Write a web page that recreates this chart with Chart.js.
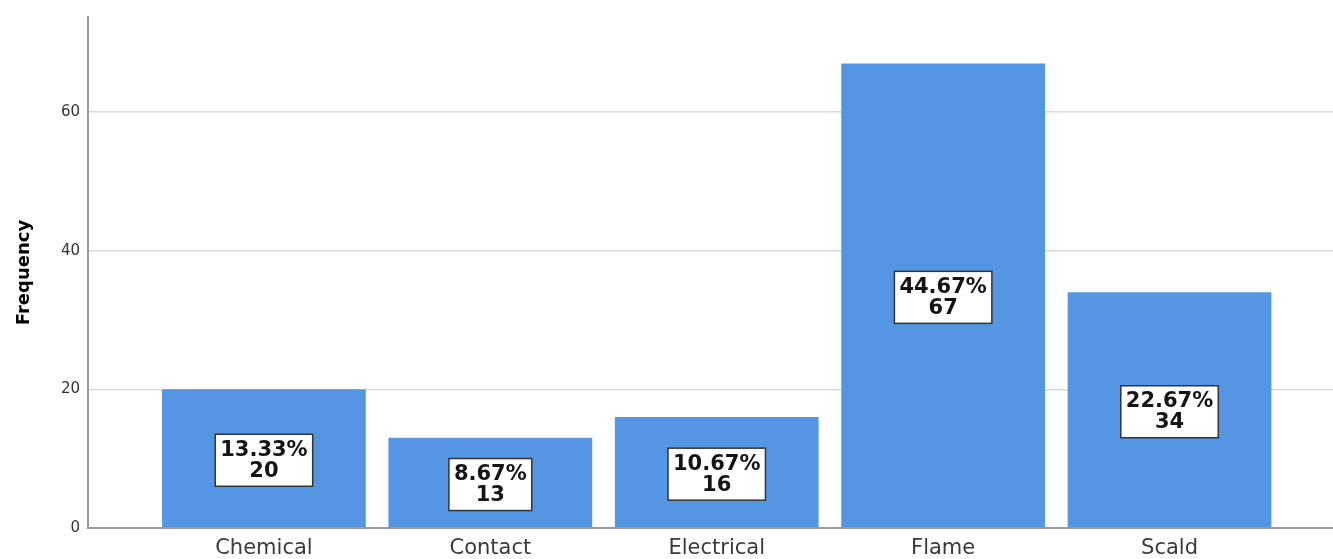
<!DOCTYPE html>
<html>
<head>
<meta charset="utf-8">
<script src="https://cdn.jsdelivr.net/npm/chart.js@4/dist/chart.umd.min.js"></script>
<style>
  html, body { margin: 0; padding: 0; background: #fff; }
  #wrap { width: 1333px; height: 559px; position: relative; }
</style>
</head>
<body>
<div id="wrap"><canvas id="burnChart"></canvas></div>
<script>
// Data
const categories = ['Chemical', 'Contact', 'Electrical', 'Flame', 'Scald'];
const frequencies = [20, 13, 16, 67, 34];
const yTicks = [0, 20, 40, 60];

const total = frequencies.reduce((a, b) => a + b, 0);

// Draws the white "percent / count" box in the middle of each bar
const barLabels = {
    id: 'barLabels',
    afterDatasetsDraw(chart) {
        const ctx = chart.ctx;
        const meta = chart.getDatasetMeta(0);
        ctx.save();
        ctx.font = 'bold 21px "DejaVu Sans"';
        ctx.textAlign = 'center';
        ctx.textBaseline = 'middle';
        meta.data.forEach((bar, i) => {
            const value = frequencies[i];
            const lines = [(value / total * 100).toFixed(2) + '%', String(value)];
            const w = Math.max(...lines.map(t => ctx.measureText(t).width)) + 10;
            const h = 52;
            const cx = bar.x;
            const cy = (bar.y + bar.base) / 2 + 2;
            ctx.fillStyle = '#ffffff';
            ctx.fillRect(cx - w / 2, cy - h / 2, w, h);
            ctx.strokeStyle = '#333333';
            ctx.lineWidth = 1.5;
            ctx.strokeRect(cx - w / 2, cy - h / 2, w, h);
            ctx.fillStyle = '#141414';
            ctx.fillText(lines[0], cx, cy - 10);
            ctx.fillText(lines[1], cx, cy + 11);
        });
        ctx.restore();
    }
};

new Chart(document.getElementById('burnChart'), {
    type: 'bar',
    data: {
        datasets: [{
            label: 'Frequency',
            data: frequencies.map((v, i) => ({ x: i, y: v })),
            backgroundColor: '#5496e4',
            borderWidth: 0,
            barPercentage: 0.9,
            categoryPercentage: 1.0
        }]
    },
    options: {
        responsive: true,
        maintainAspectRatio: false,
        animation: false,
        layout: { padding: { top: 12, left: 0, right: 0, bottom: 0 } },
        plugins: {
            legend: { display: false },
            tooltip: { enabled: false }
        },
        scales: {
            x: {
                type: 'linear',
                offset: false,
                min: -0.777,
                max: 4.722,
                grid: { display: false, drawTicks: false, offset: false },
                border: { display: true, color: '#9a9a9a', width: 2 },
                afterBuildTicks: (scale) => {
                    scale.ticks = categories.map((c, i) => ({ value: i }));
                },
                afterFit: (scale) => { scale.height = 31; },
                ticks: {
                    autoSkip: false,
                    maxRotation: 0,
                    padding: 8,
                    color: '#3a3a3a',
                    font: { family: '"DejaVu Sans"', size: 21 },
                    callback: (value) => categories[value] ?? ''
                }
            },
            y: {
                min: 0,
                max: 73.7,
                afterBuildTicks: (scale) => {
                    scale.ticks = yTicks.map(v => ({ value: v }));
                },
                afterFit: (scale) => { scale.width = 88; },
                grid: {
                    drawTicks: false,
                    lineWidth: 1.5,
                    color: (ctx) => ctx.tick && ctx.tick.value === 0 ? 'rgba(0,0,0,0)' : '#d9d9d9'
                },
                border: { display: true, color: '#9a9a9a', width: 2 },
                ticks: {
                    padding: 8,
                    color: '#333333',
                    font: { family: '"DejaVu Sans"', size: 15 }
                },
                title: {
                    display: true,
                    text: 'Frequency',
                    color: '#000000',
                    padding: { top: 14, bottom: 0 },
                    font: { family: '"DejaVu Sans"', size: 18, weight: 'bold' }
                }
            }
        }
    },
    plugins: [barLabels]
});
</script>
</body>
</html>
